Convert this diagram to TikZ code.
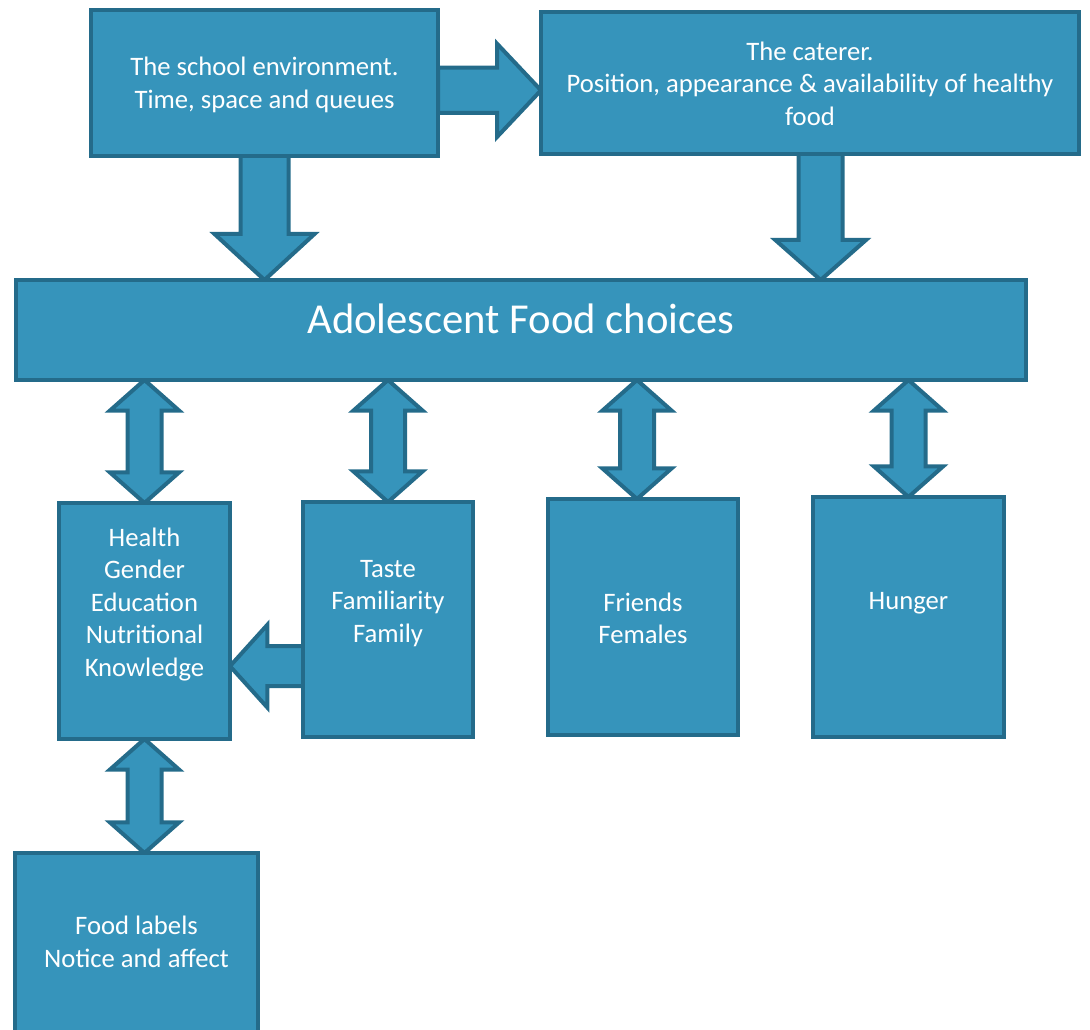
\documentclass[tikz,border=0pt]{standalone}
\usepackage{fontspec}
\setmainfont{Carlito}
\usetikzlibrary{calc, backgrounds}

\definecolor{boxfill}{HTML}{3694BB}
\definecolor{boxline}{HTML}{246B8A}

% block arrow: shaft half width, head half width, head length, from, to
\newcommand{\fatarrow}[5]{%
  \path (#4) coordinate (fa-s) (#5) coordinate (fa-t);
  \path ($(fa-t)!#3!(fa-s)$) coordinate (fa-b);
  \draw[blockarrow] ($(fa-s)!#1!90:(fa-t)$) -- ($(fa-b)!#1!90:(fa-t)$)
    -- ($(fa-b)!#2!90:(fa-t)$) -- (fa-t) -- ($(fa-b)!#2!-90:(fa-t)$)
    -- ($(fa-b)!#1!-90:(fa-t)$) -- ($(fa-s)!#1!-90:(fa-t)$) -- cycle;
}
% same, with a head at both ends
\newcommand{\fatdarrow}[5]{%
  \path (#4) coordinate (fa-s) (#5) coordinate (fa-t);
  \path ($(fa-s)!#3!(fa-t)$) coordinate (fa-a) ($(fa-t)!#3!(fa-s)$) coordinate (fa-b);
  \draw[blockarrow] (fa-s) -- ($(fa-a)!#2!90:(fa-t)$) -- ($(fa-a)!#1!90:(fa-t)$)
    -- ($(fa-b)!#1!90:(fa-t)$) -- ($(fa-b)!#2!90:(fa-t)$) -- (fa-t)
    -- ($(fa-b)!#2!-90:(fa-t)$) -- ($(fa-b)!#1!-90:(fa-t)$)
    -- ($(fa-a)!#1!-90:(fa-t)$) -- ($(fa-a)!#2!-90:(fa-t)$) -- cycle;
}

\begin{document}
\begin{tikzpicture}[
            x = 0.75pt, y = -0.75pt, % one unit is one pixel of the layout
            blockarrow/.style = {draw = boxline, fill = boxfill, line width = 3pt, line join = miter},
            boxtext/.style = {text = white, align = center, inner sep = 0pt,
                font = \fontsize{20}{24.4}\selectfont}
        ]

        \tikzstyle{box}=[
            draw = boxline,
            fill = boxfill,
            line width = 3pt,
            inner sep = 0pt,
            outer sep = 0pt
        ]

        \useasboundingbox (0,0) rectangle (1090,1030);

        \node[box, minimum width=260.25pt, minimum height=109.5pt] (school) at (264.5,83) {};
        \node[box, minimum width=403.5pt, minimum height=106.5pt] (caterer) at (810,83) {};
        \node[box, minimum width=757.5pt, minimum height=75pt] (food) at (521,330) {};
        \node[box, minimum width=128.25pt, minimum height=177pt] (health) at (144.5,621) {};
        \node[box, minimum width=127.5pt, minimum height=176.25pt] (taste) at (388,619.5) {};
        \node[box, minimum width=142.5pt, minimum height=177pt] (friends) at (643,617) {};
        \node[box, minimum width=143.25pt, minimum height=180pt] (hunger) at (908.5,617) {};
        \node[box, minimum width=182.25pt, minimum height=134.25pt] (labels) at (136.5,942.5) {};

        \node[boxtext] (school-t) at (264.5,85) {The school environment.\\Time, space and queues};
        \node[boxtext] (caterer-t) at (810,83.5) {The caterer.\\Position, appearance \& availability of healthy\\food};
        \node[boxtext, font=\fontsize{32}{38}\selectfont] (food-t) at (521,319) {Adolescent Food choices};
        \node[boxtext] (health-t) at (144.5,604.5) {Health\\Gender\\Education\\Nutritional\\Knowledge};
        \node[boxtext] (taste-t) at (388,603.5) {Taste\\Familiarity\\Family};
        \node[boxtext] (friends-t) at (643,618.5) {Friends\\Females};
        \node[boxtext] (hunger-t) at (908.5,603) {Hunger};
        \node[boxtext] (labels-t) at (136.5,942) {Food labels\\Notice and affect};

        \coordinate (school-out) at ([yshift=-5.5pt]school.east);
        \coordinate (caterer-out) at ([xshift=8pt]caterer.south);
        \coordinate (taste-out) at ([yshift=-35pt]taste.west);
        \coordinate (friends-in) at ([xshift=-4.5pt]friends.north);

        \begin{scope}[on background layer]
            \fatarrow{17pt}{35pt}{33pt}{school-out}{school-out -| caterer.west}
            \fatarrow{18pt}{37.5pt}{34.5pt}{school.south}{school.south |- food.north}
            \fatarrow{16.5pt}{34pt}{30pt}{caterer-out}{caterer-out |- food.north}
            \fatdarrow{12.75pt}{26pt}{23pt}{health.north |- food.south}{health.north}
            \fatdarrow{12.75pt}{26pt}{23pt}{taste.north |- food.south}{taste.north}
            \fatdarrow{12.75pt}{26pt}{23pt}{friends-in |- food.south}{friends-in}
            \fatdarrow{12.75pt}{26pt}{23pt}{hunger.north |- food.south}{hunger.north}
            \fatdarrow{12.75pt}{26pt}{23pt}{health.south}{health.south |- labels.north}
            \fatarrow{15pt}{31pt}{28pt}{taste-out}{taste-out -| health.east}
        \end{scope}

\end{tikzpicture}
\end{document}
